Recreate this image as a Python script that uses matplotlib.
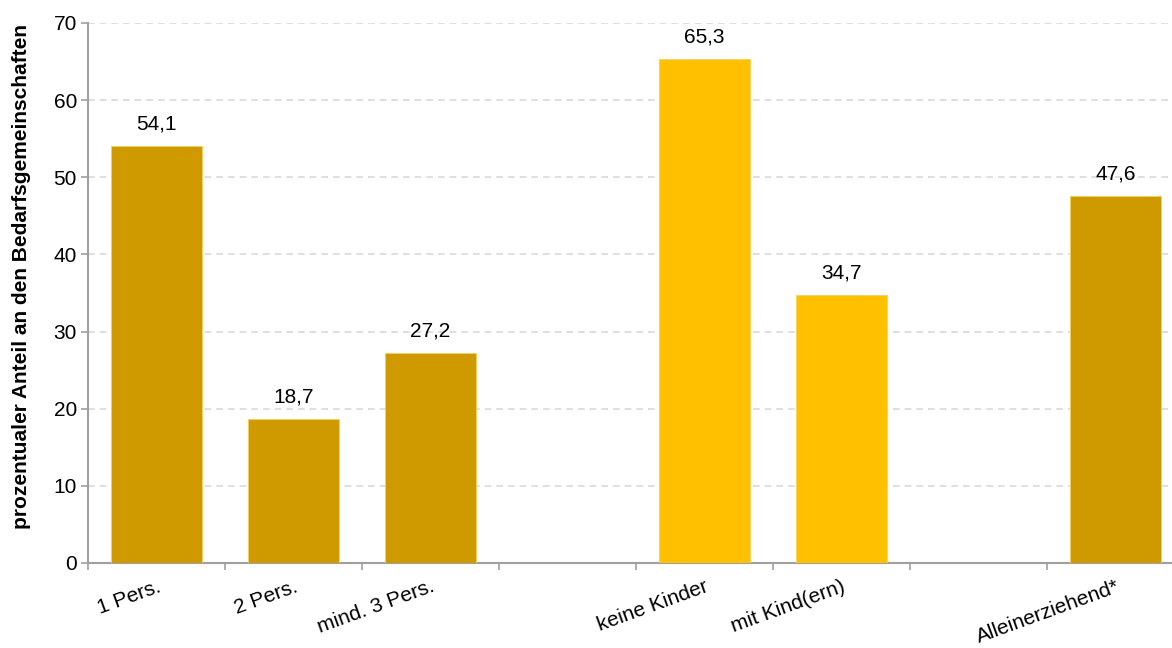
import matplotlib.pyplot as plt
import numpy as np

plt.rcParams['font.family'] = ['Liberation Sans', 'DejaVu Sans']

# Anteile der Bedarfsgemeinschaften nach Typ (leere Kategorien als Abstand)
kategorien = ['1 Pers.', '2 Pers.', 'mind. 3 Pers.', '', 'keine Kinder', 'mit Kind(ern)', '', 'Alleinerziehend*']
werte = [54.1, 18.7, 27.2, None, 65.3, 34.7, None, 47.6]
farben = ['#CF9A00', '#CF9A00', '#CF9A00', None, '#FFC000', '#FFC000', None, '#CF9A00']

fig = plt.figure(figsize=(11.72, 6.48), dpi=100)
ax = fig.add_axes([88/1172, 85/648, 1096/1172, 540/648])

x = np.arange(len(kategorien))
for i, w in enumerate(werte):
    if w is None:
        continue
    ax.bar(x[i], w, width=0.66, color=farben[i], edgecolor='#F2D060', linewidth=0.6, zorder=3)
    ax.annotate(f'{w:.1f}'.replace('.', ','), (x[i], w), xytext=(0, 9),
                textcoords='offset points', ha='center', va='bottom', fontsize=15)

ax.set_xlim(-0.5, 7.5)
ax.set_ylim(0, 70)
ax.set_yticks(range(0, 71, 10))
ax.set_xticks(np.arange(-0.5, 8, 1))
ax.set_xticklabels([])
ax.set_xticks(x, minor=True)
ax.set_xticklabels(kategorien, minor=True, rotation=20, ha='right', rotation_mode='anchor', fontsize=15)
ax.tick_params(axis='x', which='minor', length=0, pad=10)
ax.tick_params(axis='x', which='major', length=5, color='#A0A0A0', width=1.2)
ax.tick_params(axis='y', length=5, color='#A0A0A0', width=1.2, labelsize=15, pad=3)

ax.grid(axis='y', linestyle=(0, (4, 3)), color='#D9D9D9', linewidth=1.2, zorder=0)
for s in ['top', 'right']:
    ax.spines[s].set_visible(False)
for s in ['left', 'bottom']:
    ax.spines[s].set_color('#A0A0A0')
    ax.spines[s].set_linewidth(1.5)

ax.set_ylabel('prozentualer Anteil an den Bedarfsgemeinschaften', fontsize=15, fontweight='bold')
ax.yaxis.set_label_coords(-0.052, 0.53)

plt.savefig('out.png', dpi=100)
